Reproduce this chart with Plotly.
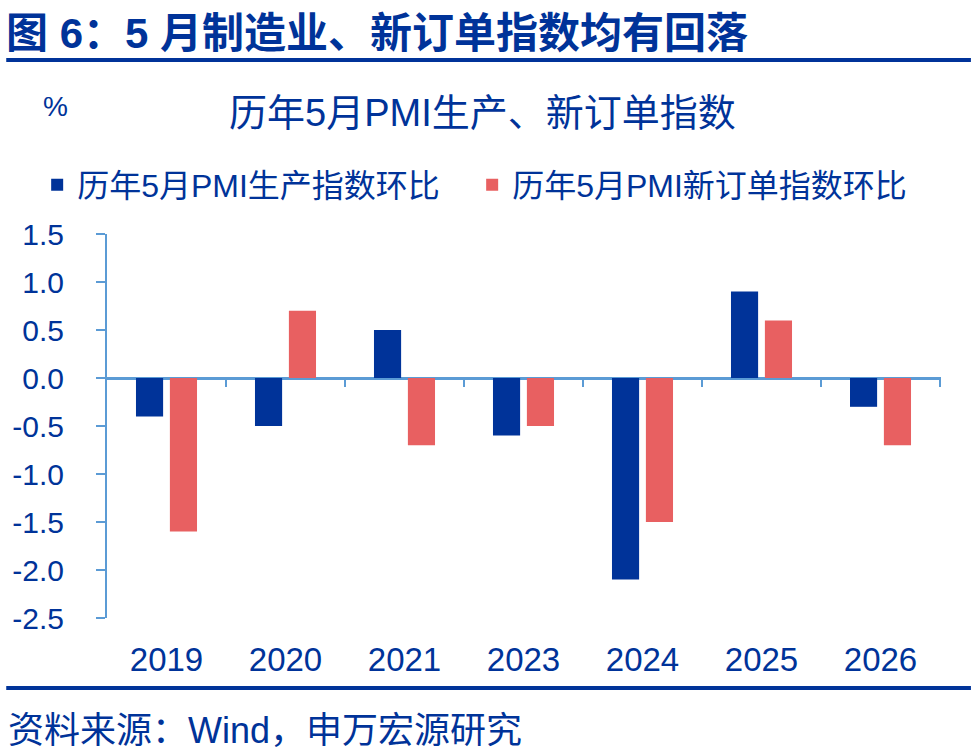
import plotly.graph_objects as go

years = ["2019", "2020", "2021", "2023", "2024", "2025", "2026"]
production = [-0.4, -0.5, 0.5, -0.6, -2.1, 0.9, -0.3]
new_orders = [-1.6, 0.7, -0.7, -0.5, -1.5, 0.6, -0.7]
y_tick_vals = [1.5, 1.0, 0.5, 0.0, -0.5, -1.0, -1.5, -2.0, -2.5]
y_tick_text = ["1.5", "1.0", "0.5", "0.0", "-0.5", "-1.0", "-1.5", "-2.0", "-2.5"]

BLUE = "#003399"
RED = "#E86061"
AXIS = "#5B9BD5"
FONT = "Arial, 'Liberation Sans', 'Noto Sans CJK SC', sans-serif"

W, H = 974, 751
L, R, T, B = 105, 33, 234, 133
PW, PH = W - L - R, H - T - B


def px(x):
    return (x - L) / PW


def py(y):
    return (H - B - y) / PH


fig = go.Figure()
fig.add_trace(go.Bar(x=years, y=production, name="历年5月PMI生产指数环比",
                     marker=dict(color=BLUE, line=dict(width=0))))
fig.add_trace(go.Bar(x=years, y=new_orders, name="历年5月PMI新订单指数环比",
                     marker=dict(color=RED, line=dict(width=0))))

shapes = []
# category boundary ticks on the zero line
for i in range(len(years)):
    shapes.append(dict(type="line", xref="x", yref="y domain",
                       x0=i + 0.5, x1=i + 0.5,
                       y0=py(378), y1=py(387),
                       line=dict(color=AXIS, width=2)))
# header and footer rules
shapes.append(dict(type="line", xref="paper", yref="paper", x0=px(4), x1=px(971),
                   y0=py(60), y1=py(60), line=dict(color=BLUE, width=4)))
shapes.append(dict(type="line", xref="paper", yref="paper", x0=px(4), x1=px(971),
                   y0=py(688), y1=py(688), line=dict(color=BLUE, width=4)))

annotations = [
    dict(text="<b>图 6：5 月制造业、新订单指数均有回落</b>", x=px(2), y=py(33),
         xref="paper", yref="paper", xanchor="left", yanchor="middle",
         showarrow=False, font=dict(size=42, color=BLUE, family=FONT)),
    dict(text="历年5月PMI生产、新订单指数", x=px(481), y=py(113),
         xref="paper", yref="paper", xanchor="center", yanchor="middle",
         showarrow=False, font=dict(size=38, color=BLUE, family=FONT)),
    dict(text="%", x=px(53), y=py(107),
         xref="paper", yref="paper", xanchor="center", yanchor="middle",
         showarrow=False, font=dict(size=28, color=BLUE, family=FONT)),
    dict(text="资料来源：Wind，申万宏源研究", x=px(4), y=py(730),
         xref="paper", yref="paper", xanchor="left", yanchor="middle",
         showarrow=False, font=dict(size=36, color=BLUE, family=FONT)),
]

fig.update_layout(
    width=W, height=H,
    margin=dict(l=L, r=R, t=T, b=B, pad=0),
    paper_bgcolor="white", plot_bgcolor="white",
    barmode="group", bargap=0.43, bargroupgap=0.2,
    font=dict(family=FONT, color=BLUE),
    showlegend=True,
    legend=dict(orientation="h", x=px(35), y=py(185), xanchor="left", yanchor="middle",
                font=dict(size=32, color=BLUE, family=FONT),
                entrywidth=390, entrywidthmode="pixels",
                bgcolor="rgba(0,0,0,0)", borderwidth=0, traceorder="normal"),
    xaxis=dict(type="category", showline=False, ticks="", showgrid=False,
               zeroline=False, tickfont=dict(size=33, color=BLUE, family=FONT),
               ticklabelstandoff=19),
    yaxis=dict(range=[-2.5, 1.5], tickvals=y_tick_vals, ticktext=y_tick_text,
               showline=True, linecolor=AXIS, linewidth=2,
               ticks="outside", ticklen=9, tickcolor=AXIS, tickwidth=2,
               showgrid=False, zeroline=True, zerolinecolor=AXIS, zerolinewidth=2.5,
               tickfont=dict(size=30, color=BLUE, family=FONT),
               ticklabelstandoff=26),
    shapes=shapes,
    annotations=annotations,
)

fig.write_html("out.html")
